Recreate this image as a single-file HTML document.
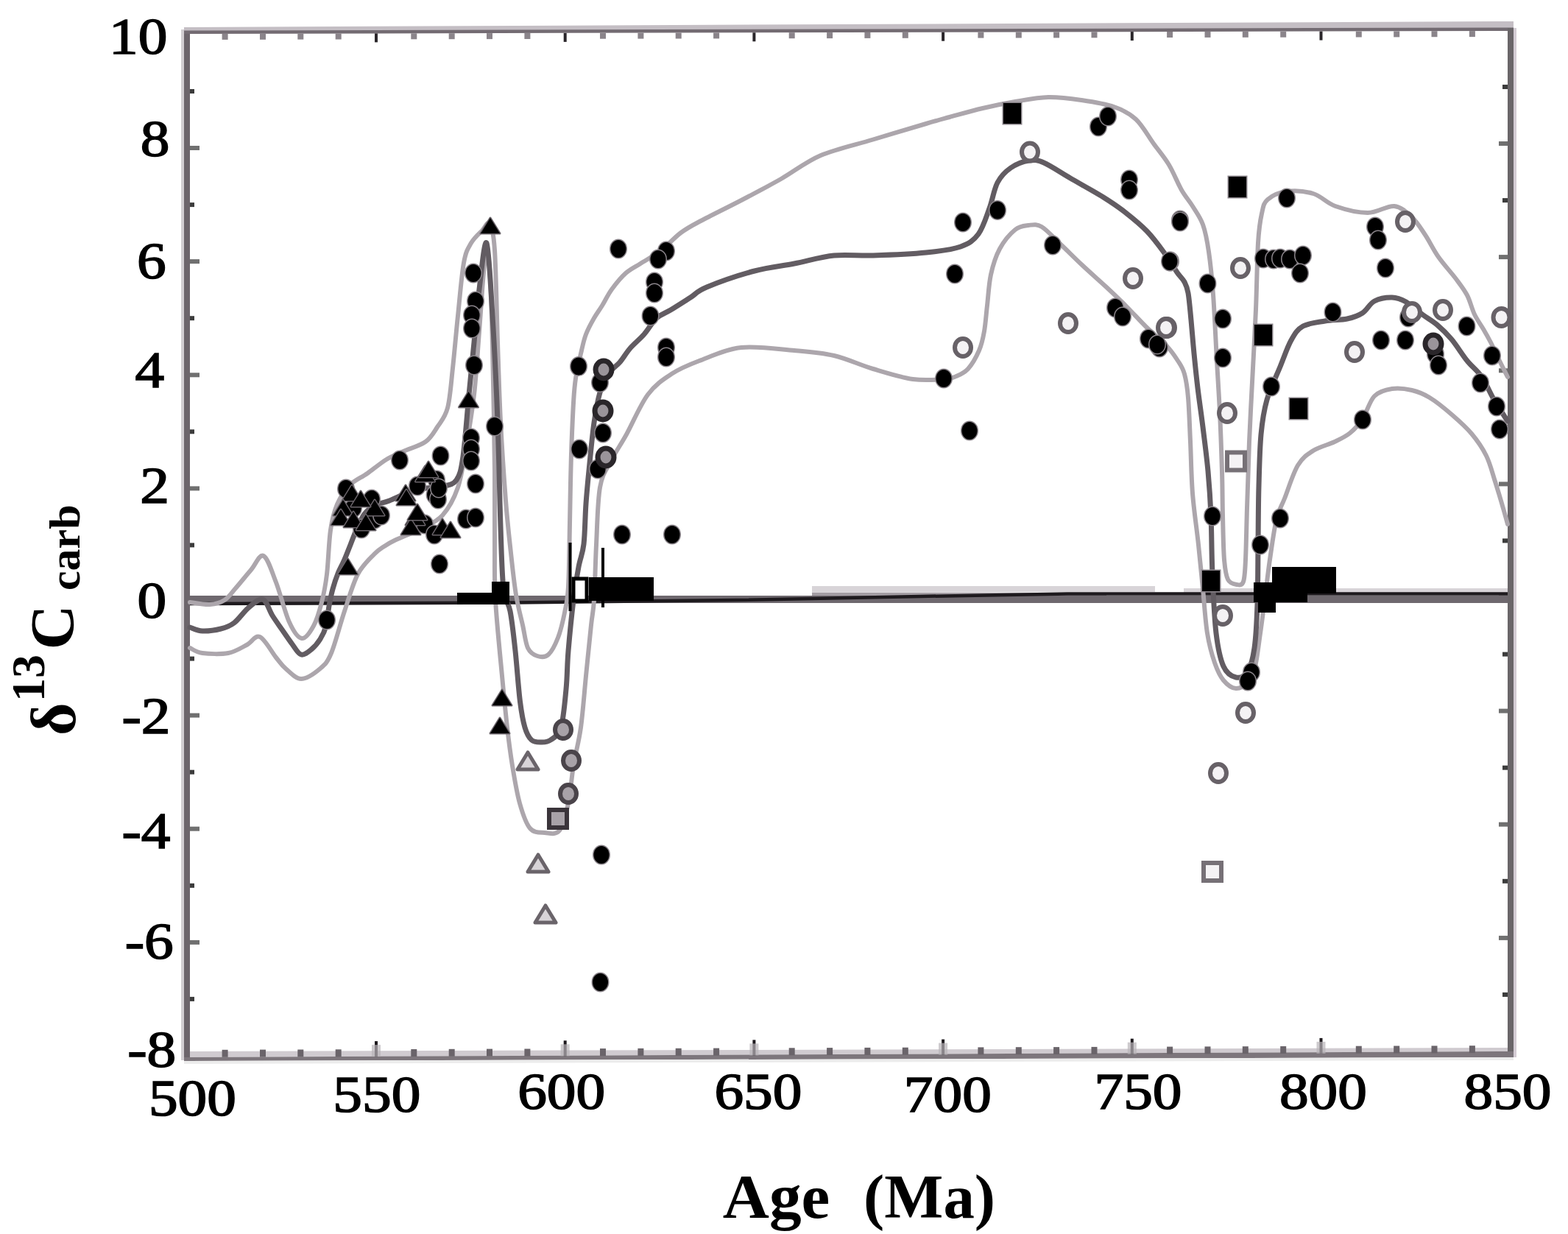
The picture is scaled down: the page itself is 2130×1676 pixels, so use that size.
<!DOCTYPE html>
<html><head><meta charset="utf-8"><title>d13C carb vs Age</title>
<style>html,body{margin:0;padding:0;background:#fff;overflow:hidden}svg{display:block}
text{font-family:"Liberation Serif","Times New Roman",serif}</style></head>
<body>
<svg width="2130" height="1676" viewBox="0 0 2130 1676">
<rect x="0" y="0" width="2130" height="1676" fill="#ffffff"/>
<rect x="246" y="40" width="4" height="1400" fill="#d2ced2"/>
<rect x="250" y="42" width="8" height="1398" fill="#6c656b"/>
<polygon points="250,37 2056,29 2056,38 250,42" fill="#c4bec4"/>
<polygon points="250,41.5 2056,37.5 2056,42 250,46" fill="#736b72"/>
<rect x="2048" y="38" width="8" height="1398" fill="#6a6669"/>
<rect x="2056" y="38" width="4" height="1398" fill="#d4ccd4"/>
<polygon points="258,1428 2048,1423 2048,1428 258,1436" fill="#d0cbd0"/>
<polygon points="250,1436 2056,1428 2056,1436 250,1441" fill="#7d767c"/>
<polygon points="250,1441 2056,1436 2056,1440 250,1445" fill="#ececec"/>
<rect x="258" y="1353.9" width="6" height="6" fill="#3c3c3c"/>
<rect x="2041" y="1347.9" width="7" height="6" fill="#3c3c3c"/>
<rect x="258" y="1276.9" width="13" height="6" fill="#707070"/>
<rect x="2036" y="1270.9" width="12" height="6" fill="#707070"/>
<rect x="258" y="1199.8" width="6" height="6" fill="#3c3c3c"/>
<rect x="2041" y="1193.8" width="7" height="6" fill="#3c3c3c"/>
<rect x="258" y="1122.7" width="13" height="6" fill="#707070"/>
<rect x="2036" y="1116.7" width="12" height="6" fill="#707070"/>
<rect x="258" y="1045.7" width="6" height="6" fill="#3c3c3c"/>
<rect x="2041" y="1039.7" width="7" height="6" fill="#3c3c3c"/>
<rect x="258" y="968.6" width="13" height="6" fill="#707070"/>
<rect x="2036" y="962.6" width="12" height="6" fill="#707070"/>
<rect x="258" y="891.6" width="6" height="6" fill="#3c3c3c"/>
<rect x="2041" y="885.6" width="7" height="6" fill="#3c3c3c"/>
<rect x="258" y="814.5" width="13" height="6" fill="#707070"/>
<rect x="2036" y="808.5" width="12" height="6" fill="#707070"/>
<rect x="258" y="737.4" width="6" height="6" fill="#3c3c3c"/>
<rect x="2041" y="731.4" width="7" height="6" fill="#3c3c3c"/>
<rect x="258" y="660.4" width="13" height="6" fill="#707070"/>
<rect x="2036" y="654.4" width="12" height="6" fill="#707070"/>
<rect x="258" y="583.3" width="6" height="6" fill="#3c3c3c"/>
<rect x="2041" y="577.3" width="7" height="6" fill="#3c3c3c"/>
<rect x="258" y="506.3" width="13" height="6" fill="#707070"/>
<rect x="2036" y="500.3" width="12" height="6" fill="#707070"/>
<rect x="258" y="429.2" width="6" height="6" fill="#3c3c3c"/>
<rect x="2041" y="423.2" width="7" height="6" fill="#3c3c3c"/>
<rect x="258" y="352.1" width="13" height="6" fill="#707070"/>
<rect x="2036" y="346.1" width="12" height="6" fill="#707070"/>
<rect x="258" y="275.1" width="6" height="6" fill="#3c3c3c"/>
<rect x="2041" y="269.1" width="7" height="6" fill="#3c3c3c"/>
<rect x="258" y="198.0" width="13" height="6" fill="#707070"/>
<rect x="2036" y="192.0" width="12" height="6" fill="#707070"/>
<rect x="258" y="121.0" width="6" height="6" fill="#3c3c3c"/>
<rect x="2041" y="115.0" width="7" height="6" fill="#3c3c3c"/>
<rect x="301.6" y="1425.8" width="8" height="10" fill="#6a646a"/>
<rect x="301.6" y="45.9" width="8" height="8" fill="#8a848a"/>
<rect x="353.0" y="1425.6" width="8" height="10" fill="#6a646a"/>
<rect x="353.0" y="45.8" width="8" height="8" fill="#8a848a"/>
<rect x="404.3" y="1425.5" width="8" height="10" fill="#6a646a"/>
<rect x="404.3" y="45.6" width="8" height="8" fill="#8a848a"/>
<rect x="455.7" y="1425.3" width="8" height="10" fill="#6a646a"/>
<rect x="455.7" y="45.5" width="8" height="8" fill="#8a848a"/>
<rect x="509.0" y="1414.1" width="4" height="21" fill="#1e1a1e"/>
<rect x="505.0" y="1419.1" width="12" height="16" fill="#b8b4b8" opacity="0.7"/>
<rect x="509.0" y="45.4" width="4" height="12" fill="#2a262a"/>
<rect x="558.3" y="1425.0" width="8" height="10" fill="#6a646a"/>
<rect x="558.3" y="45.3" width="8" height="8" fill="#8a848a"/>
<rect x="609.7" y="1424.8" width="8" height="10" fill="#6a646a"/>
<rect x="609.7" y="45.2" width="8" height="8" fill="#8a848a"/>
<rect x="661.0" y="1424.6" width="8" height="10" fill="#6a646a"/>
<rect x="661.0" y="45.1" width="8" height="8" fill="#8a848a"/>
<rect x="712.4" y="1424.5" width="8" height="10" fill="#6a646a"/>
<rect x="712.4" y="45.0" width="8" height="8" fill="#8a848a"/>
<rect x="765.7" y="1413.3" width="4" height="21" fill="#1e1a1e"/>
<rect x="761.7" y="1418.3" width="12" height="16" fill="#b8b4b8" opacity="0.7"/>
<rect x="765.7" y="44.9" width="4" height="12" fill="#2a262a"/>
<rect x="815.0" y="1424.1" width="8" height="10" fill="#6a646a"/>
<rect x="815.0" y="44.7" width="8" height="8" fill="#8a848a"/>
<rect x="866.4" y="1423.9" width="8" height="10" fill="#6a646a"/>
<rect x="866.4" y="44.6" width="8" height="8" fill="#8a848a"/>
<rect x="917.7" y="1423.8" width="8" height="10" fill="#6a646a"/>
<rect x="917.7" y="44.5" width="8" height="8" fill="#8a848a"/>
<rect x="969.1" y="1423.6" width="8" height="10" fill="#6a646a"/>
<rect x="969.1" y="44.4" width="8" height="8" fill="#8a848a"/>
<rect x="1022.4" y="1412.4" width="4" height="21" fill="#1e1a1e"/>
<rect x="1018.4" y="1417.4" width="12" height="16" fill="#b8b4b8" opacity="0.7"/>
<rect x="1022.4" y="44.3" width="4" height="12" fill="#2a262a"/>
<rect x="1071.7" y="1423.3" width="8" height="10" fill="#6a646a"/>
<rect x="1071.7" y="44.2" width="8" height="8" fill="#8a848a"/>
<rect x="1123.1" y="1423.1" width="8" height="10" fill="#6a646a"/>
<rect x="1123.1" y="44.1" width="8" height="8" fill="#8a848a"/>
<rect x="1174.4" y="1422.9" width="8" height="10" fill="#6a646a"/>
<rect x="1174.4" y="43.9" width="8" height="8" fill="#8a848a"/>
<rect x="1225.8" y="1422.7" width="8" height="10" fill="#6a646a"/>
<rect x="1225.8" y="43.8" width="8" height="8" fill="#8a848a"/>
<rect x="1279.1" y="1411.6" width="4" height="21" fill="#1e1a1e"/>
<rect x="1275.1" y="1416.6" width="12" height="16" fill="#b8b4b8" opacity="0.7"/>
<rect x="1279.1" y="43.7" width="4" height="12" fill="#2a262a"/>
<rect x="1328.4" y="1422.4" width="8" height="10" fill="#6a646a"/>
<rect x="1328.4" y="43.6" width="8" height="8" fill="#8a848a"/>
<rect x="1379.8" y="1422.2" width="8" height="10" fill="#6a646a"/>
<rect x="1379.8" y="43.5" width="8" height="8" fill="#8a848a"/>
<rect x="1431.1" y="1422.1" width="8" height="10" fill="#6a646a"/>
<rect x="1431.1" y="43.4" width="8" height="8" fill="#8a848a"/>
<rect x="1482.5" y="1421.9" width="8" height="10" fill="#6a646a"/>
<rect x="1482.5" y="43.3" width="8" height="8" fill="#8a848a"/>
<rect x="1535.8" y="1410.7" width="4" height="21" fill="#1e1a1e"/>
<rect x="1531.8" y="1415.7" width="12" height="16" fill="#b8b4b8" opacity="0.7"/>
<rect x="1535.8" y="43.1" width="4" height="12" fill="#2a262a"/>
<rect x="1585.1" y="1421.6" width="8" height="10" fill="#6a646a"/>
<rect x="1585.1" y="43.0" width="8" height="8" fill="#8a848a"/>
<rect x="1636.5" y="1421.4" width="8" height="10" fill="#6a646a"/>
<rect x="1636.5" y="42.9" width="8" height="8" fill="#8a848a"/>
<rect x="1687.8" y="1421.2" width="8" height="10" fill="#6a646a"/>
<rect x="1687.8" y="42.8" width="8" height="8" fill="#8a848a"/>
<rect x="1739.2" y="1421.0" width="8" height="10" fill="#6a646a"/>
<rect x="1739.2" y="42.7" width="8" height="8" fill="#8a848a"/>
<rect x="1792.5" y="1409.9" width="4" height="21" fill="#1e1a1e"/>
<rect x="1788.5" y="1414.9" width="12" height="16" fill="#b8b4b8" opacity="0.7"/>
<rect x="1792.5" y="42.6" width="4" height="12" fill="#2a262a"/>
<rect x="1841.8" y="1420.7" width="8" height="10" fill="#6a646a"/>
<rect x="1841.8" y="42.5" width="8" height="8" fill="#8a848a"/>
<rect x="1893.2" y="1420.5" width="8" height="10" fill="#6a646a"/>
<rect x="1893.2" y="42.4" width="8" height="8" fill="#8a848a"/>
<rect x="1944.5" y="1420.4" width="8" height="10" fill="#6a646a"/>
<rect x="1944.5" y="42.2" width="8" height="8" fill="#8a848a"/>
<rect x="1995.9" y="1420.2" width="8" height="10" fill="#6a646a"/>
<rect x="1995.9" y="42.1" width="8" height="8" fill="#8a848a"/>
<text transform="translate(148.0,72.5) scale(1.15,1)" font-size="69" font-weight="normal" fill="#000" stroke="#000" stroke-width="1.6">10</text>
<text transform="translate(190.7,212.0) scale(1.15,1)" font-size="69" font-weight="normal" fill="#000" stroke="#000" stroke-width="1.6">8</text>
<text transform="translate(186.0,377.6) scale(1.15,1)" font-size="69" font-weight="normal" fill="#000" stroke="#000" stroke-width="1.6">6</text>
<text transform="translate(183.4,525.6) scale(1.15,1)" font-size="69" font-weight="normal" fill="#000" stroke="#000" stroke-width="1.6">4</text>
<text transform="translate(190.3,682.6) scale(1.15,1)" font-size="69" font-weight="normal" fill="#000" stroke="#000" stroke-width="1.6">2</text>
<text transform="translate(186.4,839.4) scale(1.15,1)" font-size="69" font-weight="normal" fill="#000" stroke="#000" stroke-width="1.6">0</text>
<text transform="translate(165.4,995.8) scale(1.15,1)" font-size="69" font-weight="normal" fill="#000" stroke="#000" stroke-width="1.6">-2</text>
<text transform="translate(165.4,1152.4) scale(1.15,1)" font-size="69" font-weight="normal" fill="#000" stroke="#000" stroke-width="1.6">-4</text>
<text transform="translate(169.7,1301.5) scale(1.15,1)" font-size="69" font-weight="normal" fill="#000" stroke="#000" stroke-width="1.6">-6</text>
<text transform="translate(173.2,1449.3) scale(1.15,1)" font-size="69" font-weight="normal" fill="#000" stroke="#000" stroke-width="1.6">-8</text>
<text transform="translate(201.9,1514.9) scale(1.15,1)" font-size="69" font-weight="normal" fill="#000" stroke="#000" stroke-width="1.6">500</text>
<text transform="translate(452.3,1510.3) scale(1.15,1)" font-size="69" font-weight="normal" fill="#000" stroke="#000" stroke-width="1.6">550</text>
<text transform="translate(703.2,1506.2) scale(1.15,1)" font-size="69" font-weight="normal" fill="#000" stroke="#000" stroke-width="1.6">600</text>
<text transform="translate(970.4,1506.2) scale(1.15,1)" font-size="69" font-weight="normal" fill="#000" stroke="#000" stroke-width="1.6">650</text>
<text transform="translate(1227.8,1510.2) scale(1.15,1)" font-size="69" font-weight="normal" fill="#000" stroke="#000" stroke-width="1.6">700</text>
<text transform="translate(1486.5,1506.2) scale(1.15,1)" font-size="69" font-weight="normal" fill="#000" stroke="#000" stroke-width="1.6">750</text>
<text transform="translate(1737.9,1506.2) scale(1.15,1)" font-size="69" font-weight="normal" fill="#000" stroke="#000" stroke-width="1.6">800</text>
<text transform="translate(1988.5,1505.7) scale(1.15,1)" font-size="69" font-weight="normal" fill="#000" stroke="#000" stroke-width="1.6">850</text>
<text transform="translate(981.8,1653.7) scale(1.04,1)" font-size="84" font-weight="bold" fill="#000">Age</text>
<text transform="translate(1173.1,1653.7) scale(1.01,1)" font-size="84" font-weight="bold" fill="#000">(Ma)</text>
<text transform="translate(102.0,999.0) rotate(-90)" font-size="86" font-weight="bold" fill="#000">δ</text>
<text transform="translate(60.0,953.1) rotate(-90)" font-size="64" font-weight="bold" fill="#000">13</text>
<text transform="translate(100.0,882.2) rotate(-90)" font-size="84" font-weight="bold" fill="#000">C</text>
<text transform="translate(108.0,802.1) rotate(-90)" font-size="60" font-weight="bold" fill="#000">carb</text>
<polygon points="1103,796 1569,796 1569,804 1103,805" fill="#d8d4d8"/>
<rect x="1608" y="799" width="440" height="6" fill="#d8d4d8"/>
<rect x="1103" y="805" width="400" height="4" fill="#a39da3"/>
<rect x="258" y="809" width="1790" height="10" fill="#6e686e"/>
<path d="M258,820 L700,818.5 L1000,815 L1250,810 L1450,806.5 L2048,806.5" stroke="#1e1a1e" stroke-width="4.5" fill="none"/>
<path d="M258.0,880.0 C260.8,881.2 266.3,885.8 275.0,887.0 C283.7,888.2 300.0,888.8 310.0,887.0 C320.0,885.2 327.8,879.7 335.0,876.0 C342.2,872.3 346.3,862.2 353.0,865.0 C359.7,867.8 369.2,885.8 375.0,893.0 C380.8,900.2 382.3,903.2 388.0,908.0 C393.7,912.8 401.2,922.0 409.0,922.0 C416.8,922.0 428.2,913.8 435.0,908.0 C441.8,902.2 444.5,900.0 450.0,887.0 C455.5,874.0 462.0,847.8 468.0,830.0 C474.0,812.2 479.3,792.8 486.0,780.0 C492.7,767.2 502.0,759.3 508.0,753.0 C514.0,746.7 517.3,745.2 522.0,742.0 C526.7,738.8 527.7,738.0 536.0,734.0 C544.3,730.0 561.2,723.7 572.0,718.0 C582.8,712.3 592.7,709.3 601.0,700.0 C609.3,690.7 616.7,677.3 622.0,662.0 C627.3,646.7 629.3,629.0 633.0,608.0 C636.7,587.0 641.0,562.3 644.0,536.0 C647.0,509.7 648.8,477.7 651.0,450.0 C653.2,422.3 655.2,388.3 657.0,370.0 C658.8,351.7 660.3,335.0 662.0,340.0 C663.7,345.0 665.7,370.0 667.0,400.0 C668.3,430.0 669.2,480.0 670.0,520.0 C670.8,560.0 671.7,603.3 672.0,640.0 C672.3,676.7 671.8,710.8 672.0,740.0 C672.2,769.2 671.3,785.3 673.0,815.0 C674.7,844.7 679.3,889.2 682.0,918.0 C684.7,946.8 686.7,967.7 689.0,988.0 C691.3,1008.3 693.2,1022.8 696.0,1040.0 C698.8,1057.2 702.0,1076.8 706.0,1091.0 C710.0,1105.2 714.3,1118.3 720.0,1125.0 C725.7,1131.7 733.3,1130.5 740.0,1131.0 C746.7,1131.5 754.7,1134.7 760.0,1128.0 C765.3,1121.3 768.8,1105.7 772.0,1091.0 C775.2,1076.3 776.2,1057.2 779.0,1040.0 C781.8,1022.8 786.2,1008.3 789.0,988.0 C791.8,967.7 793.7,941.2 796.0,918.0 C798.3,894.8 801.2,866.2 803.0,849.0 C804.8,831.8 805.8,833.2 807.0,815.0 C808.2,796.8 808.7,765.5 810.0,740.0 C811.3,714.5 811.7,681.0 815.0,662.0 C818.3,643.0 824.0,638.0 830.0,626.0 C836.0,614.0 842.7,605.0 851.0,590.0 C859.3,575.0 869.8,549.7 880.0,536.0 C890.2,522.3 900.3,515.7 912.0,508.0 C923.7,500.3 934.2,496.0 950.0,490.0 C965.8,484.0 985.5,474.3 1007.0,472.0 C1028.5,469.7 1058.0,474.2 1079.0,476.0 C1100.0,477.8 1115.2,478.8 1133.0,483.0 C1150.8,487.2 1168.2,495.7 1186.0,501.0 C1203.8,506.3 1223.8,512.7 1240.0,515.0 C1256.2,517.3 1273.2,515.7 1283.0,515.0 C1292.8,514.3 1293.7,513.3 1299.0,511.0 C1304.3,508.7 1309.8,506.8 1315.0,501.0 C1320.2,495.2 1326.3,484.5 1330.0,476.0 C1333.7,467.5 1335.2,460.2 1337.0,450.0 C1338.8,439.8 1339.5,427.8 1341.0,415.0 C1342.5,402.2 1343.2,385.8 1346.0,373.0 C1348.8,360.2 1352.5,348.2 1358.0,338.0 C1363.5,327.8 1372.5,317.3 1379.0,312.0 C1385.5,306.7 1391.0,306.7 1397.0,306.0 C1403.0,305.3 1407.7,303.7 1415.0,308.0 C1422.3,312.3 1431.8,323.3 1441.0,332.0 C1450.2,340.7 1459.7,350.3 1470.0,360.0 C1480.3,369.7 1493.0,380.7 1503.0,390.0 C1513.0,399.3 1520.8,406.8 1530.0,416.0 C1539.2,425.2 1548.8,436.0 1558.0,445.0 C1567.2,454.0 1578.0,462.5 1585.0,470.0 C1592.0,477.5 1596.0,483.7 1600.0,490.0 C1604.0,496.3 1606.7,499.7 1609.0,508.0 C1611.3,516.3 1612.7,524.7 1614.0,540.0 C1615.3,555.3 1616.0,578.3 1617.0,600.0 C1618.0,621.7 1618.2,646.7 1620.0,670.0 C1621.8,693.3 1625.7,718.3 1628.0,740.0 C1630.3,761.7 1632.0,780.0 1634.0,800.0 C1636.0,820.0 1637.3,843.3 1640.0,860.0 C1642.7,876.7 1646.3,889.3 1650.0,900.0 C1653.7,910.7 1657.2,918.2 1662.0,924.0 C1666.8,929.8 1673.5,934.7 1679.0,935.0 C1684.5,935.3 1690.7,931.0 1695.0,926.0 C1699.3,921.0 1702.2,916.0 1705.0,905.0 C1707.8,894.0 1709.8,875.0 1712.0,860.0 C1714.2,845.0 1715.8,831.7 1718.0,815.0 C1720.2,798.3 1722.3,778.3 1725.0,760.0 C1727.7,741.7 1730.7,718.8 1734.0,705.0 C1737.3,691.2 1740.2,689.2 1745.0,677.0 C1749.8,664.8 1756.5,642.8 1763.0,632.0 C1769.5,621.2 1775.7,617.3 1784.0,612.0 C1792.3,606.7 1804.7,604.0 1813.0,600.0 C1821.3,596.0 1827.7,593.2 1834.0,588.0 C1840.3,582.8 1845.5,577.3 1851.0,569.0 C1856.5,560.7 1860.3,544.8 1867.0,538.0 C1873.7,531.2 1882.5,529.3 1891.0,528.0 C1899.5,526.7 1909.5,528.0 1918.0,530.0 C1926.5,532.0 1933.0,534.5 1942.0,540.0 C1951.0,545.5 1962.5,554.8 1972.0,563.0 C1981.5,571.2 1991.2,579.7 1999.0,589.0 C2006.8,598.3 2013.7,608.2 2019.0,619.0 C2024.3,629.8 2027.0,641.5 2031.0,654.0 C2035.0,666.5 2040.2,684.3 2043.0,694.0 C2045.8,703.7 2047.2,709.0 2048.0,712.0" stroke="#aca6ac" stroke-width="6" fill="none" stroke-linejoin="round" stroke-linecap="round" />
<path d="M258.0,818.0 C262.5,818.5 277.2,821.5 285.0,821.0 C292.8,820.5 299.2,818.7 305.0,815.0 C310.8,811.3 314.0,805.8 320.0,799.0 C326.0,792.2 334.7,781.3 341.0,774.0 C347.3,766.7 352.3,752.2 358.0,755.0 C363.7,757.8 369.2,776.0 375.0,791.0 C380.8,806.0 387.2,832.3 393.0,845.0 C398.8,857.7 404.5,866.2 410.0,867.0 C415.5,867.8 421.5,858.2 426.0,850.0 C430.5,841.8 434.0,829.7 437.0,818.0 C440.0,806.3 442.0,796.3 444.0,780.0 C446.0,763.7 446.7,735.8 449.0,720.0 C451.3,704.2 453.7,695.2 458.0,685.0 C462.3,674.8 468.2,666.0 475.0,659.0 C481.8,652.0 490.7,648.8 499.0,643.0 C507.3,637.2 516.8,629.0 525.0,624.0 C533.2,619.0 539.2,617.0 548.0,613.0 C556.8,609.0 570.3,605.5 578.0,600.0 C585.7,594.5 589.0,587.7 594.0,580.0 C599.0,572.3 604.5,567.3 608.0,554.0 C611.5,540.7 612.7,520.8 615.0,500.0 C617.3,479.2 619.5,452.8 622.0,429.0 C624.5,405.2 627.0,373.5 630.0,357.0 C633.0,340.5 635.8,337.3 640.0,330.0 C644.2,322.7 650.8,317.3 655.0,313.0 C659.2,308.7 662.2,299.5 665.0,304.0 C667.8,308.5 670.2,313.2 672.0,340.0 C673.8,366.8 674.7,426.3 676.0,465.0 C677.3,503.7 678.2,536.2 680.0,572.0 C681.8,607.8 684.7,650.2 687.0,680.0 C689.3,709.8 691.7,729.7 694.0,751.0 C696.3,772.3 698.3,791.7 701.0,808.0 C703.7,824.3 707.3,837.0 710.0,849.0 C712.7,861.0 713.7,873.0 717.0,880.0 C720.3,887.0 725.3,889.5 730.0,891.0 C734.7,892.5 740.3,893.2 745.0,889.0 C749.7,884.8 754.3,875.5 758.0,866.0 C761.7,856.5 764.7,843.5 767.0,832.0 C769.3,820.5 770.8,817.2 772.0,797.0 C773.2,776.8 773.5,734.3 774.0,711.0 C774.5,687.7 774.6,675.2 775.0,657.0 C775.4,638.8 775.8,620.3 776.5,602.0 C777.2,583.7 778.1,561.7 779.0,547.0 C779.9,532.3 780.2,525.8 782.0,514.0 C783.8,502.2 787.7,486.0 790.0,476.0 C792.3,466.0 793.2,461.3 796.0,454.0 C798.8,446.7 803.3,438.5 807.0,432.0 C810.7,425.5 814.0,421.5 818.0,415.0 C822.0,408.5 825.7,400.3 831.0,393.0 C836.3,385.7 843.5,376.8 850.0,371.0 C856.5,365.2 862.2,363.0 870.0,358.0 C877.8,353.0 887.8,348.0 897.0,341.0 C906.2,334.0 915.8,322.8 925.0,316.0 C934.2,309.2 938.3,307.3 952.0,300.0 C965.7,292.7 988.8,281.5 1007.0,272.0 C1025.2,262.5 1043.0,253.2 1061.0,243.0 C1079.0,232.8 1094.2,219.9 1115.0,211.0 C1135.8,202.1 1162.2,196.7 1186.0,189.5 C1209.8,182.3 1240.7,173.1 1258.0,168.0 C1275.3,162.9 1277.2,162.5 1290.0,159.0 C1302.8,155.5 1320.2,150.5 1335.0,147.0 C1349.8,143.5 1364.2,140.5 1379.0,138.0 C1393.8,135.5 1409.0,132.3 1424.0,132.0 C1439.0,131.7 1454.2,133.8 1469.0,136.0 C1483.8,138.2 1500.7,140.7 1513.0,145.0 C1525.3,149.3 1534.0,153.7 1543.0,162.0 C1552.0,170.3 1559.5,184.7 1567.0,195.0 C1574.5,205.3 1581.7,213.5 1588.0,224.0 C1594.3,234.5 1599.7,248.7 1605.0,258.0 C1610.3,267.3 1615.2,272.2 1620.0,280.0 C1624.8,287.8 1630.3,294.7 1634.0,305.0 C1637.7,315.3 1639.7,326.2 1642.0,342.0 C1644.3,357.8 1646.2,375.3 1648.0,400.0 C1649.8,424.7 1651.5,463.3 1653.0,490.0 C1654.5,516.7 1655.8,535.0 1657.0,560.0 C1658.2,585.0 1659.3,616.7 1660.0,640.0 C1660.7,663.3 1660.5,680.0 1661.0,700.0 C1661.5,720.0 1661.8,745.5 1663.0,760.0 C1664.2,774.5 1665.2,781.3 1668.0,787.0 C1670.8,792.7 1676.5,793.5 1680.0,794.0 C1683.5,794.5 1687.0,795.7 1689.0,790.0 C1691.0,784.3 1691.2,776.7 1692.0,760.0 C1692.8,743.3 1693.2,716.7 1694.0,690.0 C1694.8,663.3 1695.7,631.7 1697.0,600.0 C1698.3,568.3 1700.5,530.0 1702.0,500.0 C1703.5,470.0 1704.8,448.3 1706.0,420.0 C1707.2,391.7 1707.7,351.7 1709.0,330.0 C1710.3,308.3 1711.8,299.8 1714.0,290.0 C1716.2,280.2 1716.3,276.0 1722.0,271.0 C1727.7,266.0 1737.7,261.3 1748.0,260.0 C1758.3,258.7 1773.0,259.7 1784.0,263.0 C1795.0,266.3 1801.7,275.7 1814.0,280.0 C1826.3,284.3 1844.7,289.0 1858.0,289.0 C1871.3,289.0 1884.0,279.0 1894.0,280.0 C1904.0,281.0 1911.0,288.5 1918.0,295.0 C1925.0,301.5 1930.0,310.0 1936.0,319.0 C1942.0,328.0 1947.0,339.0 1954.0,349.0 C1961.0,359.0 1971.5,370.3 1978.0,379.0 C1984.5,387.7 1988.8,393.0 1993.0,401.0 C1997.2,409.0 1999.3,419.3 2003.0,427.0 C2006.7,434.7 2011.3,440.7 2015.0,447.0 C2018.7,453.3 2021.5,458.2 2025.0,465.0 C2028.5,471.8 2032.2,480.2 2036.0,488.0 C2039.8,495.8 2046.0,508.0 2048.0,512.0" stroke="#aca6ac" stroke-width="6" fill="none" stroke-linejoin="round" stroke-linecap="round" />
<path d="M258.0,852.0 C260.8,852.8 268.0,856.7 275.0,857.0 C282.0,857.3 292.8,855.8 300.0,854.0 C307.2,852.2 311.7,850.8 318.0,846.0 C324.3,841.2 331.5,830.3 338.0,825.0 C344.5,819.7 351.7,812.2 357.0,814.0 C362.3,815.8 365.7,829.2 370.0,836.0 C374.3,842.8 378.5,848.5 383.0,855.0 C387.5,861.5 392.7,869.3 397.0,875.0 C401.3,880.7 404.7,887.8 409.0,889.0 C413.3,890.2 418.7,885.5 423.0,882.0 C427.3,878.5 431.7,873.3 435.0,868.0 C438.3,862.7 441.0,857.5 443.0,850.0 C445.0,842.5 445.5,831.3 447.0,823.0 C448.5,814.7 450.0,807.3 452.0,800.0 C454.0,792.7 456.3,785.7 459.0,779.0 C461.7,772.3 465.2,766.5 468.0,760.0 C470.8,753.5 473.3,746.7 476.0,740.0 C478.7,733.3 480.8,727.0 484.0,720.0 C487.2,713.0 490.7,703.7 495.0,698.0 C499.3,692.3 504.3,689.0 510.0,686.0 C515.7,683.0 519.8,683.5 529.0,680.0 C538.2,676.5 553.2,668.2 565.0,665.0 C576.8,661.8 590.8,663.2 600.0,661.0 C609.2,658.8 615.2,658.8 620.0,652.0 C624.8,645.2 626.2,639.3 629.0,620.0 C631.8,600.7 634.5,561.8 637.0,536.0 C639.5,510.2 641.7,488.8 644.0,465.0 C646.3,441.2 648.2,415.5 651.0,393.0 C653.8,370.5 658.0,324.0 661.0,330.0 C664.0,336.0 666.5,388.7 669.0,429.0 C671.5,469.3 674.2,524.3 676.0,572.0 C677.8,619.7 678.7,677.0 680.0,715.0 C681.3,753.0 681.8,780.8 684.0,800.0 C686.2,819.2 690.3,816.0 693.0,830.0 C695.7,844.0 697.8,863.5 700.0,884.0 C702.2,904.5 704.3,935.7 706.5,953.0 C708.7,970.3 710.4,979.3 713.0,988.0 C715.6,996.7 718.3,1001.7 722.0,1005.0 C725.7,1008.3 730.7,1008.0 735.0,1008.0 C739.3,1008.0 743.5,1008.3 748.0,1005.0 C752.5,1001.7 758.5,999.5 762.0,988.0 C765.5,976.5 767.3,953.3 769.0,936.0 C770.7,918.7 770.3,904.2 772.0,884.0 C773.7,863.8 776.7,834.0 779.0,815.0 C781.3,796.0 783.7,782.7 786.0,770.0 C788.3,757.3 791.3,753.3 793.0,739.0 C794.7,724.7 794.7,702.3 796.0,684.0 C797.3,665.7 799.2,647.3 801.0,629.0 C802.8,610.7 804.7,590.0 807.0,574.0 C809.3,558.0 811.8,544.0 815.0,533.0 C818.2,522.0 821.5,514.8 826.0,508.0 C830.5,501.2 837.0,497.8 842.0,492.0 C847.0,486.2 850.5,479.3 856.0,473.0 C861.5,466.7 869.0,460.8 875.0,454.0 C881.0,447.2 886.0,437.5 892.0,432.0 C898.0,426.5 903.3,425.7 911.0,421.0 C918.7,416.3 929.8,409.2 938.0,404.0 C946.2,398.8 945.5,396.0 960.0,390.0 C974.5,384.0 1005.2,373.3 1025.0,368.0 C1044.8,362.7 1061.0,361.5 1079.0,358.0 C1097.0,354.5 1115.2,348.8 1133.0,347.0 C1150.8,345.2 1165.2,347.7 1186.0,347.0 C1206.8,346.3 1238.2,345.0 1258.0,343.0 C1277.8,341.0 1293.2,339.2 1305.0,335.0 C1316.8,330.8 1322.5,326.7 1329.0,318.0 C1335.5,309.3 1339.7,294.7 1344.0,283.0 C1348.3,271.3 1350.2,257.2 1355.0,248.0 C1359.8,238.8 1365.8,233.0 1373.0,228.0 C1380.2,223.0 1390.5,219.2 1398.0,218.0 C1405.5,216.8 1408.7,217.0 1418.0,221.0 C1427.3,225.0 1440.5,234.2 1454.0,242.0 C1467.5,249.8 1486.7,260.3 1499.0,268.0 C1511.3,275.7 1518.2,280.3 1528.0,288.0 C1537.8,295.7 1549.0,304.7 1558.0,314.0 C1567.0,323.3 1575.2,334.7 1582.0,344.0 C1588.8,353.3 1594.5,363.5 1599.0,370.0 C1603.5,376.5 1606.5,378.3 1609.0,383.0 C1611.5,387.7 1612.5,389.3 1614.0,398.0 C1615.5,406.7 1616.7,421.3 1618.0,435.0 C1619.3,448.7 1620.5,464.7 1622.0,480.0 C1623.5,495.3 1625.0,510.3 1627.0,527.0 C1629.0,543.7 1631.7,561.2 1634.0,580.0 C1636.3,598.8 1639.2,620.0 1641.0,640.0 C1642.8,660.0 1644.0,676.7 1645.0,700.0 C1646.0,723.3 1645.8,753.3 1647.0,780.0 C1648.2,806.7 1649.5,839.2 1652.0,860.0 C1654.5,880.8 1657.5,895.0 1662.0,905.0 C1666.5,915.0 1673.5,918.8 1679.0,920.0 C1684.5,921.2 1690.8,918.7 1695.0,912.0 C1699.2,905.3 1701.8,895.3 1704.0,880.0 C1706.2,864.7 1707.2,843.3 1708.0,820.0 C1708.8,796.7 1708.7,766.7 1709.0,740.0 C1709.3,713.3 1709.3,685.0 1710.0,660.0 C1710.7,635.0 1711.2,609.5 1713.0,590.0 C1714.8,570.5 1716.7,558.3 1721.0,543.0 C1725.3,527.7 1733.5,511.5 1739.0,498.0 C1744.5,484.5 1748.8,471.2 1754.0,462.0 C1759.2,452.8 1762.3,447.3 1770.0,443.0 C1777.7,438.7 1790.0,437.7 1800.0,436.0 C1810.0,434.3 1821.5,434.8 1830.0,433.0 C1838.5,431.2 1844.8,429.0 1851.0,425.0 C1857.2,421.0 1860.3,412.5 1867.0,409.0 C1873.7,405.5 1883.8,403.8 1891.0,404.0 C1898.2,404.2 1903.2,406.2 1910.0,410.0 C1916.8,413.8 1925.0,421.8 1932.0,427.0 C1939.0,432.2 1945.3,435.3 1952.0,441.0 C1958.7,446.7 1965.2,452.8 1972.0,461.0 C1978.8,469.2 1986.2,481.5 1993.0,490.0 C1999.8,498.5 2007.0,503.3 2013.0,512.0 C2019.0,520.7 2023.2,532.0 2029.0,542.0 C2034.8,552.0 2044.8,567.0 2048.0,572.0" stroke="#625c62" stroke-width="7" fill="none" stroke-linejoin="round" stroke-linecap="round" />
<rect x="621" y="805" width="71" height="16" fill="#000"/>
<rect x="668" y="790" width="24" height="31" fill="#000"/>
<rect x="800" y="784" width="88" height="32" fill="#000"/>
<rect x="779" y="786" width="18" height="30" fill="#fff" stroke="#000" stroke-width="5"/>
<rect x="772.5" y="737" width="4" height="93" fill="#000"/>
<rect x="817" y="744" width="4" height="81" fill="#000"/>
<rect x="1728" y="770" width="87" height="36" fill="#000"/>
<rect x="1703" y="791" width="73" height="27" fill="#000"/>
<rect x="1709" y="815" width="24" height="17" fill="#000"/>
<ellipse cx="444" cy="842" rx="10.5" ry="12" fill="#000" stroke="#8a848a" stroke-width="3" paint-order="stroke"/>
<ellipse cx="597" cy="766" rx="10.5" ry="12" fill="#000" stroke="#8a848a" stroke-width="3" paint-order="stroke"/>
<ellipse cx="543" cy="625" rx="10.5" ry="12" fill="#000" stroke="#8a848a" stroke-width="3" paint-order="stroke"/>
<ellipse cx="598.5" cy="619" rx="10.5" ry="12" fill="#000" stroke="#8a848a" stroke-width="3" paint-order="stroke"/>
<ellipse cx="593" cy="652" rx="10.5" ry="12" fill="#000" stroke="#8a848a" stroke-width="3" paint-order="stroke"/>
<ellipse cx="590.6" cy="672" rx="10.5" ry="12" fill="#000" stroke="#8a848a" stroke-width="3" paint-order="stroke"/>
<ellipse cx="505" cy="678" rx="10.5" ry="12" fill="#000" stroke="#8a848a" stroke-width="3" paint-order="stroke"/>
<ellipse cx="509" cy="705" rx="10.5" ry="12" fill="#000" stroke="#8a848a" stroke-width="3" paint-order="stroke"/>
<ellipse cx="491" cy="718" rx="10.5" ry="12" fill="#000" stroke="#8a848a" stroke-width="3" paint-order="stroke"/>
<ellipse cx="633" cy="705" rx="10.5" ry="12" fill="#000" stroke="#8a848a" stroke-width="3" paint-order="stroke"/>
<ellipse cx="567" cy="660" rx="10.5" ry="12" fill="#000" stroke="#8a848a" stroke-width="3" paint-order="stroke"/>
<ellipse cx="595" cy="678" rx="10.5" ry="12" fill="#000" stroke="#8a848a" stroke-width="3" paint-order="stroke"/>
<ellipse cx="577" cy="712" rx="10.5" ry="12" fill="#000" stroke="#8a848a" stroke-width="3" paint-order="stroke"/>
<ellipse cx="590" cy="726" rx="10.5" ry="12" fill="#000" stroke="#8a848a" stroke-width="3" paint-order="stroke"/>
<ellipse cx="480" cy="690" rx="10.5" ry="12" fill="#000" stroke="#8a848a" stroke-width="3" paint-order="stroke"/>
<ellipse cx="518" cy="700" rx="10.5" ry="12" fill="#000" stroke="#8a848a" stroke-width="3" paint-order="stroke"/>
<ellipse cx="470" cy="664" rx="10.5" ry="12" fill="#000" stroke="#8a848a" stroke-width="3" paint-order="stroke"/>
<ellipse cx="643" cy="371" rx="10.5" ry="12" fill="#000" stroke="#8a848a" stroke-width="3" paint-order="stroke"/>
<ellipse cx="646" cy="409" rx="10.5" ry="12" fill="#000" stroke="#8a848a" stroke-width="3" paint-order="stroke"/>
<ellipse cx="641" cy="428" rx="10.5" ry="12" fill="#000" stroke="#8a848a" stroke-width="3" paint-order="stroke"/>
<ellipse cx="641" cy="446" rx="10.5" ry="12" fill="#000" stroke="#8a848a" stroke-width="3" paint-order="stroke"/>
<ellipse cx="644" cy="496" rx="10.5" ry="12" fill="#000" stroke="#8a848a" stroke-width="3" paint-order="stroke"/>
<ellipse cx="672" cy="579" rx="10.5" ry="12" fill="#000" stroke="#8a848a" stroke-width="3" paint-order="stroke"/>
<ellipse cx="640" cy="595" rx="10.5" ry="12" fill="#000" stroke="#8a848a" stroke-width="3" paint-order="stroke"/>
<ellipse cx="640" cy="610" rx="10.5" ry="12" fill="#000" stroke="#8a848a" stroke-width="3" paint-order="stroke"/>
<ellipse cx="640" cy="626" rx="10.5" ry="12" fill="#000" stroke="#8a848a" stroke-width="3" paint-order="stroke"/>
<ellipse cx="646" cy="657" rx="10.5" ry="12" fill="#000" stroke="#8a848a" stroke-width="3" paint-order="stroke"/>
<ellipse cx="646" cy="703" rx="10.5" ry="12" fill="#000" stroke="#8a848a" stroke-width="3" paint-order="stroke"/>
<ellipse cx="596" cy="663" rx="10.5" ry="12" fill="#000" stroke="#8a848a" stroke-width="3" paint-order="stroke"/>
<ellipse cx="817" cy="1161" rx="10.5" ry="12" fill="#000" stroke="#8a848a" stroke-width="3" paint-order="stroke"/>
<ellipse cx="815.5" cy="1334" rx="10.5" ry="12" fill="#000" stroke="#8a848a" stroke-width="3" paint-order="stroke"/>
<ellipse cx="840" cy="338" rx="10.5" ry="12" fill="#000" stroke="#8a848a" stroke-width="3" paint-order="stroke"/>
<ellipse cx="905" cy="341" rx="10.5" ry="12" fill="#000" stroke="#8a848a" stroke-width="3" paint-order="stroke"/>
<ellipse cx="894" cy="352" rx="10.5" ry="12" fill="#000" stroke="#8a848a" stroke-width="3" paint-order="stroke"/>
<ellipse cx="889" cy="383" rx="10.5" ry="12" fill="#000" stroke="#8a848a" stroke-width="3" paint-order="stroke"/>
<ellipse cx="889" cy="398" rx="10.5" ry="12" fill="#000" stroke="#8a848a" stroke-width="3" paint-order="stroke"/>
<ellipse cx="883.5" cy="429" rx="10.5" ry="12" fill="#000" stroke="#8a848a" stroke-width="3" paint-order="stroke"/>
<ellipse cx="905" cy="472" rx="10.5" ry="12" fill="#000" stroke="#8a848a" stroke-width="3" paint-order="stroke"/>
<ellipse cx="905" cy="485" rx="10.5" ry="12" fill="#000" stroke="#8a848a" stroke-width="3" paint-order="stroke"/>
<ellipse cx="786" cy="497.5" rx="10.5" ry="12" fill="#000" stroke="#8a848a" stroke-width="3" paint-order="stroke"/>
<ellipse cx="815" cy="519.5" rx="10.5" ry="12" fill="#000" stroke="#8a848a" stroke-width="3" paint-order="stroke"/>
<ellipse cx="819" cy="588" rx="10.5" ry="12" fill="#000" stroke="#8a848a" stroke-width="3" paint-order="stroke"/>
<ellipse cx="787" cy="610" rx="10.5" ry="12" fill="#000" stroke="#8a848a" stroke-width="3" paint-order="stroke"/>
<ellipse cx="812" cy="637" rx="10.5" ry="12" fill="#000" stroke="#8a848a" stroke-width="3" paint-order="stroke"/>
<ellipse cx="845" cy="726" rx="10.5" ry="12" fill="#000" stroke="#8a848a" stroke-width="3" paint-order="stroke"/>
<ellipse cx="913" cy="726" rx="10.5" ry="12" fill="#000" stroke="#8a848a" stroke-width="3" paint-order="stroke"/>
<ellipse cx="1297" cy="372" rx="10.5" ry="12" fill="#000" stroke="#8a848a" stroke-width="3" paint-order="stroke"/>
<ellipse cx="1308" cy="302" rx="10.5" ry="12" fill="#000" stroke="#8a848a" stroke-width="3" paint-order="stroke"/>
<ellipse cx="1355" cy="285.5" rx="10.5" ry="12" fill="#000" stroke="#8a848a" stroke-width="3" paint-order="stroke"/>
<ellipse cx="1282" cy="514" rx="10.5" ry="12" fill="#000" stroke="#8a848a" stroke-width="3" paint-order="stroke"/>
<ellipse cx="1317" cy="585" rx="10.5" ry="12" fill="#000" stroke="#8a848a" stroke-width="3" paint-order="stroke"/>
<ellipse cx="1430" cy="333" rx="10.5" ry="12" fill="#000" stroke="#8a848a" stroke-width="3" paint-order="stroke"/>
<ellipse cx="1492" cy="172" rx="10.5" ry="12" fill="#000" stroke="#8a848a" stroke-width="3" paint-order="stroke"/>
<ellipse cx="1505" cy="158" rx="10.5" ry="12" fill="#000" stroke="#8a848a" stroke-width="3" paint-order="stroke"/>
<ellipse cx="1534" cy="244" rx="10.5" ry="12" fill="#000" stroke="#8a848a" stroke-width="3" paint-order="stroke"/>
<ellipse cx="1534" cy="258" rx="10.5" ry="12" fill="#000" stroke="#8a848a" stroke-width="3" paint-order="stroke"/>
<ellipse cx="1515" cy="418" rx="10.5" ry="12" fill="#000" stroke="#8a848a" stroke-width="3" paint-order="stroke"/>
<ellipse cx="1525" cy="430" rx="10.5" ry="12" fill="#000" stroke="#8a848a" stroke-width="3" paint-order="stroke"/>
<ellipse cx="1560" cy="460" rx="10.5" ry="12" fill="#000" stroke="#8a848a" stroke-width="3" paint-order="stroke"/>
<ellipse cx="1575" cy="472" rx="10.5" ry="12" fill="#000" stroke="#8a848a" stroke-width="3" paint-order="stroke"/>
<ellipse cx="1590" cy="355" rx="10.5" ry="12" fill="#000" stroke="#8a848a" stroke-width="3" paint-order="stroke"/>
<ellipse cx="1603" cy="299" rx="10.5" ry="12" fill="#000" stroke="#8a848a" stroke-width="3" paint-order="stroke"/>
<ellipse cx="1748" cy="269" rx="10.5" ry="12" fill="#000" stroke="#8a848a" stroke-width="3" paint-order="stroke"/>
<ellipse cx="1868" cy="308" rx="10.5" ry="12" fill="#000" stroke="#8a848a" stroke-width="3" paint-order="stroke"/>
<ellipse cx="1872" cy="326" rx="10.5" ry="12" fill="#000" stroke="#8a848a" stroke-width="3" paint-order="stroke"/>
<ellipse cx="1882" cy="364" rx="10.5" ry="12" fill="#000" stroke="#8a848a" stroke-width="3" paint-order="stroke"/>
<ellipse cx="1661" cy="433" rx="10.5" ry="12" fill="#000" stroke="#8a848a" stroke-width="3" paint-order="stroke"/>
<ellipse cx="1640.5" cy="385" rx="10.5" ry="12" fill="#000" stroke="#8a848a" stroke-width="3" paint-order="stroke"/>
<ellipse cx="1716" cy="351" rx="10.5" ry="12" fill="#000" stroke="#8a848a" stroke-width="3" paint-order="stroke"/>
<ellipse cx="1730" cy="352" rx="10.5" ry="12" fill="#000" stroke="#8a848a" stroke-width="3" paint-order="stroke"/>
<ellipse cx="1739" cy="351" rx="10.5" ry="12" fill="#000" stroke="#8a848a" stroke-width="3" paint-order="stroke"/>
<ellipse cx="1752" cy="352" rx="10.5" ry="12" fill="#000" stroke="#8a848a" stroke-width="3" paint-order="stroke"/>
<ellipse cx="1770" cy="347" rx="10.5" ry="12" fill="#000" stroke="#8a848a" stroke-width="3" paint-order="stroke"/>
<ellipse cx="1766" cy="371" rx="10.5" ry="12" fill="#000" stroke="#8a848a" stroke-width="3" paint-order="stroke"/>
<ellipse cx="1810.5" cy="424" rx="10.5" ry="12" fill="#000" stroke="#8a848a" stroke-width="3" paint-order="stroke"/>
<ellipse cx="1661" cy="486" rx="10.5" ry="12" fill="#000" stroke="#8a848a" stroke-width="3" paint-order="stroke"/>
<ellipse cx="1727" cy="525" rx="10.5" ry="12" fill="#000" stroke="#8a848a" stroke-width="3" paint-order="stroke"/>
<ellipse cx="1851" cy="570" rx="10.5" ry="12" fill="#000" stroke="#8a848a" stroke-width="3" paint-order="stroke"/>
<ellipse cx="1876" cy="462" rx="10.5" ry="12" fill="#000" stroke="#8a848a" stroke-width="3" paint-order="stroke"/>
<ellipse cx="1909" cy="462" rx="10.5" ry="12" fill="#000" stroke="#8a848a" stroke-width="3" paint-order="stroke"/>
<ellipse cx="1913" cy="431" rx="10.5" ry="12" fill="#000" stroke="#8a848a" stroke-width="3" paint-order="stroke"/>
<ellipse cx="1992.5" cy="443" rx="10.5" ry="12" fill="#000" stroke="#8a848a" stroke-width="3" paint-order="stroke"/>
<ellipse cx="1950" cy="481" rx="10.5" ry="12" fill="#000" stroke="#8a848a" stroke-width="3" paint-order="stroke"/>
<ellipse cx="1954" cy="496" rx="10.5" ry="12" fill="#000" stroke="#8a848a" stroke-width="3" paint-order="stroke"/>
<ellipse cx="2027" cy="483" rx="10.5" ry="12" fill="#000" stroke="#8a848a" stroke-width="3" paint-order="stroke"/>
<ellipse cx="2011" cy="520" rx="10.5" ry="12" fill="#000" stroke="#8a848a" stroke-width="3" paint-order="stroke"/>
<ellipse cx="2033" cy="552" rx="10.5" ry="12" fill="#000" stroke="#8a848a" stroke-width="3" paint-order="stroke"/>
<ellipse cx="2037" cy="583" rx="10.5" ry="12" fill="#000" stroke="#8a848a" stroke-width="3" paint-order="stroke"/>
<ellipse cx="1603" cy="301" rx="10.5" ry="12" fill="#000" stroke="#8a848a" stroke-width="3" paint-order="stroke"/>
<ellipse cx="1589" cy="355" rx="10.5" ry="12" fill="#000" stroke="#8a848a" stroke-width="3" paint-order="stroke"/>
<ellipse cx="1572" cy="468" rx="10.5" ry="12" fill="#000" stroke="#8a848a" stroke-width="3" paint-order="stroke"/>
<ellipse cx="1647" cy="701" rx="10.5" ry="12" fill="#000" stroke="#8a848a" stroke-width="3" paint-order="stroke"/>
<ellipse cx="1739" cy="704" rx="10.5" ry="12" fill="#000" stroke="#8a848a" stroke-width="3" paint-order="stroke"/>
<ellipse cx="1712" cy="740" rx="10.5" ry="12" fill="#000" stroke="#8a848a" stroke-width="3" paint-order="stroke"/>
<ellipse cx="1700" cy="913" rx="10.5" ry="12" fill="#000" stroke="#8a848a" stroke-width="3" paint-order="stroke"/>
<ellipse cx="1695" cy="925" rx="10.5" ry="12" fill="#000" stroke="#8a848a" stroke-width="3" paint-order="stroke"/>
<rect x="1363" y="140" width="24" height="28" fill="#000" stroke="#8a848a" stroke-width="3" paint-order="stroke"/>
<rect x="1669" y="240" width="24" height="28" fill="#000" stroke="#8a848a" stroke-width="3" paint-order="stroke"/>
<rect x="1633" y="775" width="24" height="28" fill="#000" stroke="#8a848a" stroke-width="3" paint-order="stroke"/>
<rect x="1704" y="441" width="24" height="28" fill="#000" stroke="#8a848a" stroke-width="3" paint-order="stroke"/>
<rect x="1752" y="541" width="24" height="28" fill="#000" stroke="#8a848a" stroke-width="3" paint-order="stroke"/>
<polygon points="472.5,759 485.5,780 459.5,780" fill="#000" stroke="#6a646a" stroke-width="3" stroke-linejoin="round" paint-order="stroke"/>
<polygon points="577.5,633 590.5,654 564.5,654" fill="#000" stroke="#6a646a" stroke-width="3" stroke-linejoin="round" paint-order="stroke"/>
<polygon points="551,659 564,680 538,680" fill="#000" stroke="#6a646a" stroke-width="3" stroke-linejoin="round" paint-order="stroke"/>
<polygon points="478,659 491,680 465,680" fill="#000" stroke="#6a646a" stroke-width="3" stroke-linejoin="round" paint-order="stroke"/>
<polygon points="466,679 479,700 453,700" fill="#000" stroke="#6a646a" stroke-width="3" stroke-linejoin="round" paint-order="stroke"/>
<polygon points="509,679 522,700 496,700" fill="#000" stroke="#6a646a" stroke-width="3" stroke-linejoin="round" paint-order="stroke"/>
<polygon points="463,692 476,713 450,713" fill="#000" stroke="#6a646a" stroke-width="3" stroke-linejoin="round" paint-order="stroke"/>
<polygon points="564,692 577,713 551,713" fill="#000" stroke="#6a646a" stroke-width="3" stroke-linejoin="round" paint-order="stroke"/>
<polygon points="558,705 571,726 545,726" fill="#000" stroke="#6a646a" stroke-width="3" stroke-linejoin="round" paint-order="stroke"/>
<polygon points="601,705 614,726 588,726" fill="#000" stroke="#6a646a" stroke-width="3" stroke-linejoin="round" paint-order="stroke"/>
<polygon points="480,695 493,716 467,716" fill="#000" stroke="#6a646a" stroke-width="3" stroke-linejoin="round" paint-order="stroke"/>
<polygon points="582,627 595,648 569,648" fill="#000" stroke="#6a646a" stroke-width="3" stroke-linejoin="round" paint-order="stroke"/>
<polygon points="552,665 565,686 539,686" fill="#000" stroke="#6a646a" stroke-width="3" stroke-linejoin="round" paint-order="stroke"/>
<polygon points="567,685 580,706 554,706" fill="#000" stroke="#6a646a" stroke-width="3" stroke-linejoin="round" paint-order="stroke"/>
<polygon points="490,667 503,688 477,688" fill="#000" stroke="#6a646a" stroke-width="3" stroke-linejoin="round" paint-order="stroke"/>
<polygon points="497,699 510,720 484,720" fill="#000" stroke="#6a646a" stroke-width="3" stroke-linejoin="round" paint-order="stroke"/>
<polygon points="612,709 625,730 599,730" fill="#000" stroke="#6a646a" stroke-width="3" stroke-linejoin="round" paint-order="stroke"/>
<polygon points="666,296 679,317 653,317" fill="#000" stroke="#6a646a" stroke-width="3" stroke-linejoin="round" paint-order="stroke"/>
<polygon points="636.5,532 649.5,553 623.5,553" fill="#000" stroke="#6a646a" stroke-width="3" stroke-linejoin="round" paint-order="stroke"/>
<polygon points="682,937 695,958 669,958" fill="#000" stroke="#6a646a" stroke-width="3" stroke-linejoin="round" paint-order="stroke"/>
<polygon points="679,975 692,996 666,996" fill="#000" stroke="#6a646a" stroke-width="3" stroke-linejoin="round" paint-order="stroke"/>
<ellipse cx="1308" cy="472" rx="11" ry="12" fill="#f4f2f4" stroke="#676167" stroke-width="6"/>
<ellipse cx="1399" cy="206.5" rx="11" ry="12" fill="#f4f2f4" stroke="#676167" stroke-width="6"/>
<ellipse cx="1451" cy="439" rx="11" ry="12" fill="#f4f2f4" stroke="#676167" stroke-width="6"/>
<ellipse cx="1539" cy="378" rx="11" ry="12" fill="#f4f2f4" stroke="#676167" stroke-width="6"/>
<ellipse cx="1585" cy="445" rx="11" ry="12" fill="#f4f2f4" stroke="#676167" stroke-width="6"/>
<ellipse cx="1909" cy="301" rx="11" ry="12" fill="#f4f2f4" stroke="#676167" stroke-width="6"/>
<ellipse cx="1685" cy="364" rx="11" ry="12" fill="#f4f2f4" stroke="#676167" stroke-width="6"/>
<ellipse cx="1667" cy="561" rx="11" ry="12" fill="#f4f2f4" stroke="#676167" stroke-width="6"/>
<ellipse cx="1840" cy="478" rx="11" ry="12" fill="#f4f2f4" stroke="#676167" stroke-width="6"/>
<ellipse cx="1960" cy="421" rx="11" ry="12" fill="#f4f2f4" stroke="#676167" stroke-width="6"/>
<ellipse cx="2039.5" cy="431" rx="11" ry="12" fill="#f4f2f4" stroke="#676167" stroke-width="6"/>
<ellipse cx="1918" cy="424" rx="11" ry="12" fill="#f4f2f4" stroke="#676167" stroke-width="6"/>
<ellipse cx="1661" cy="836" rx="11" ry="12" fill="#f4f2f4" stroke="#676167" stroke-width="6"/>
<ellipse cx="1692" cy="968" rx="11" ry="12" fill="#f4f2f4" stroke="#676167" stroke-width="6"/>
<ellipse cx="1655" cy="1050" rx="11" ry="12" fill="#f4f2f4" stroke="#676167" stroke-width="6"/>
<ellipse cx="1584" cy="445" rx="11" ry="12" fill="#f4f2f4" stroke="#676167" stroke-width="6"/>
<ellipse cx="820" cy="502" rx="11" ry="12" fill="#9a949a" stroke="#2a262a" stroke-width="7"/>
<ellipse cx="819" cy="558" rx="11" ry="12" fill="#9a949a" stroke="#2a262a" stroke-width="7"/>
<ellipse cx="823" cy="621" rx="11" ry="12" fill="#9a949a" stroke="#2a262a" stroke-width="7"/>
<ellipse cx="1947" cy="467" rx="11" ry="12" fill="#9a949a" stroke="#2a262a" stroke-width="7"/>
<ellipse cx="765" cy="991" rx="11" ry="12" fill="#a8a2a8" stroke="#4a444a" stroke-width="6"/>
<ellipse cx="776" cy="1033" rx="11" ry="12" fill="#a8a2a8" stroke="#4a444a" stroke-width="6"/>
<ellipse cx="772" cy="1078" rx="11" ry="12" fill="#a8a2a8" stroke="#4a444a" stroke-width="6"/>
<rect x="746" y="1100" width="24" height="24" fill="#a8a2a8" stroke="#3a343a" stroke-width="6"/>
<rect x="1667" y="614.5" width="24" height="24" fill="#f4f2f4" stroke="#767076" stroke-width="6"/>
<rect x="1635" y="1172" width="24" height="24" fill="#f4f2f4" stroke="#767076" stroke-width="6"/>
<polygon points="717,1022 731,1045 703,1045" fill="#d8d4d8" stroke="#6a646a" stroke-width="5" stroke-linejoin="round"/>
<polygon points="731,1161 745,1184 717,1184" fill="#d8d4d8" stroke="#6a646a" stroke-width="5" stroke-linejoin="round"/>
<polygon points="741,1230 755,1253 727,1253" fill="#d8d4d8" stroke="#6a646a" stroke-width="5" stroke-linejoin="round"/>
</svg>
</body></html>
